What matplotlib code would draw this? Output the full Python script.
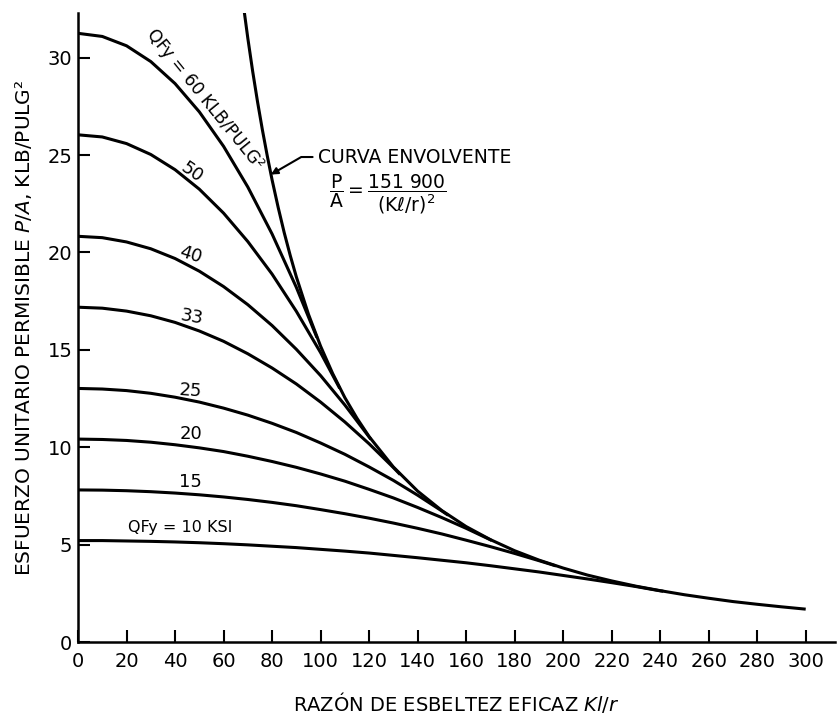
import numpy as np
import matplotlib
matplotlib.use("Agg")
import matplotlib.pyplot as plt

# ------------------ Data ------------------
# Allowable stress P/A (klb/pulg2) against slenderness Kl/r, one list per QFy
kl_60 = [0, 10, 20, 30, 40, 50, 60, 70, 80, 90, 98.5]
pa_60 = [31.25, 31.09, 30.61, 29.80, 28.67, 27.22, 25.45, 23.36, 20.95, 18.21, 15.63]

kl_50 = [0, 10, 20, 30, 40, 50, 60, 70, 80, 90, 100, 107.9]
pa_50 = [26.04, 25.93, 25.59, 25.03, 24.25, 23.25, 22.02, 20.56, 18.89, 16.98, 14.86, 13.02]

kl_40 = [0, 10, 20, 30, 40, 50, 60, 70, 80, 90, 100, 110, 120, 120.7]
pa_40 = [20.83, 20.76, 20.54, 20.19, 19.69, 19.04, 18.25, 17.32, 16.25, 15.03, 13.68, 12.17, 10.53, 10.41]

kl_33 = [0, 10, 20, 30, 40, 50, 60, 70, 80, 90, 100, 110, 120, 130, 132.8]
pa_33 = [17.19, 17.14, 16.99, 16.75, 16.41, 15.97, 15.44, 14.80, 14.07, 13.25, 12.32, 11.30, 10.18, 8.96, 8.60]

kl_25 = [0, 10, 20, 30, 40, 50, 60, 70, 80, 90, 100, 110, 120, 130, 140, 150, 152.6]
pa_25 = [13.02, 12.99, 12.91, 12.77, 12.57, 12.32, 12.01, 11.65, 11.23, 10.76, 10.22, 9.64, 8.99, 8.30,
         7.54, 6.73, 6.51]

kl_20 = [0, 10, 20, 30, 40, 50, 60, 70, 80, 90, 100, 110, 120, 130, 140, 150, 160, 170, 170.6]
pa_20 = [10.42, 10.40, 10.35, 10.26, 10.13, 9.97, 9.78, 9.54, 9.27, 8.97, 8.63, 8.26, 7.84, 7.40,
         6.91, 6.39, 5.84, 5.25, 5.21]

kl_15 = [0, 10, 20, 30, 40, 50, 60, 70, 80, 90, 100, 110, 120, 130, 140, 150, 160, 170, 180, 190, 197]
pa_15 = [7.81, 7.80, 7.77, 7.72, 7.65, 7.56, 7.45, 7.32, 7.17, 7.00, 6.80, 6.59, 6.36, 6.11,
         5.84, 5.55, 5.23, 4.90, 4.55, 4.18, 3.91]

kl_10 = [0, 10, 20, 30, 40, 50, 60, 70, 80, 90, 100, 110, 120, 130, 140, 150, 160, 170, 180, 190,
         200, 210, 220, 230, 240, 241.3]
pa_10 = [5.21, 5.21, 5.19, 5.17, 5.14, 5.10, 5.05, 4.99, 4.92, 4.85, 4.76, 4.67, 4.57, 4.45,
         4.33, 4.20, 4.07, 3.92, 3.76, 3.60, 3.42, 3.24, 3.05, 2.85, 2.63, 2.61]

# Envelope curve P/A = 151 900 / (Kl/r)^2
kl_env = [68, 70, 72, 74, 76, 78, 80, 82.5, 85, 87.5, 90, 95, 100, 105, 110, 115, 120, 130, 140, 150,
          160, 170, 180, 190, 200, 210, 220, 230, 240, 250, 260, 270, 280, 290, 300]
pa_env = [32.85, 31.00, 29.30, 27.74, 26.30, 24.97, 23.73, 22.32, 21.02, 19.84, 18.75, 16.83, 15.19,
          13.78, 12.55, 11.49, 10.55, 8.99, 7.75, 6.75, 5.93, 5.26, 4.69, 4.21, 3.80, 3.44, 3.14,
          2.87, 2.64, 2.43, 2.25, 2.08, 1.94, 1.81, 1.69]

x_ticks = [0, 20, 40, 60, 80, 100, 120, 140, 160, 180, 200, 220, 240, 260, 280, 300]
y_ticks = [0, 5, 10, 15, 20, 25, 30]

curves = [(kl_60, pa_60), (kl_50, pa_50), (kl_40, pa_40), (kl_33, pa_33),
          (kl_25, pa_25), (kl_20, pa_20), (kl_15, pa_15), (kl_10, pa_10)]

# ------------------ Figure ------------------
plt.rcParams['font.family'] = ['DejaVu Sans']
plt.rcParams['mathtext.default'] = 'regular'

fig = plt.figure(figsize=(8.39, 7.15), dpi=100)
ax = fig.add_axes([0.093, 0.102, 0.902, 0.880])

lw = 2.2
for kl, pa in curves:
    ax.plot(kl, pa, color='black', lw=lw, solid_capstyle='butt')
ax.plot(kl_env, pa_env, color='black', lw=lw, solid_capstyle='butt')

ax.set_xlim(0, 312)
ax.set_ylim(0, 32.3)

for side in ['top', 'right']:
    ax.spines[side].set_visible(False)
for side in ['left', 'bottom']:
    ax.spines[side].set_linewidth(1.8)

ax.set_xticks(x_ticks)
ax.set_yticks(y_ticks)
ax.tick_params(axis='both', direction='in', length=8.5, width=1.5, labelsize=14)
ax.tick_params(axis='x', pad=7)
ax.tick_params(axis='y', pad=4)

ax.set_xlabel(r'RAZÓN DE ESBELTEZ EFICAZ $\mathit{Kl/r}$', fontsize=14, labelpad=14)
ax.set_ylabel(r'ESFUERZO UNITARIO PERMISIBLE $\mathit{P/A}$, KLB/PULG²', fontsize=14.5, labelpad=10)

# Curve labels (sitting just above each curve)
lbl = dict(fontsize=13, ha='center', rotation_mode='anchor')
ax.text(49.5, 27.55, 'QFy = 60 KLB/PULG²', rotation=-51, va='bottom',
        fontsize=12.3, ha='center', rotation_mode='anchor')
ax.text(47.0, 24.1, '50', rotation=-35, va='center', **lbl)
ax.text(46.2, 19.9, '40', rotation=-18, va='center', **lbl)
ax.text(47.0, 16.7, '33', rotation=-10, va='center', **lbl)
ax.text(46.5, 12.9, '25', rotation=-4, va='center', **lbl)
ax.text(46.5, 10.7, '20', va='center', **lbl)
ax.text(46.5, 8.2, '15', va='center', **lbl)
ax.text(42.0, 5.9, 'QFy = 10 KSI', va='center', fontsize=11.5, ha='center')

# Envelope annotation
ax.annotate('CURVA ENVOLVENTE', xy=(79.5, 24.0), xytext=(99.0, 24.9),
            fontsize=13.5, ha='left', va='center',
            arrowprops=dict(arrowstyle='-|>', color='black', lw=1.5,
                            connectionstyle='angle,angleA=0,angleB=30,rad=0',
                            shrinkA=2, shrinkB=0, mutation_scale=10))
ax.text(103.5, 23.0, r'$\dfrac{P}{A} = \dfrac{151\ 900}{(K\ell/r)^2}$',
        fontsize=13.5, ha='left', va='center')

fig.savefig('out.png', dpi=100)
